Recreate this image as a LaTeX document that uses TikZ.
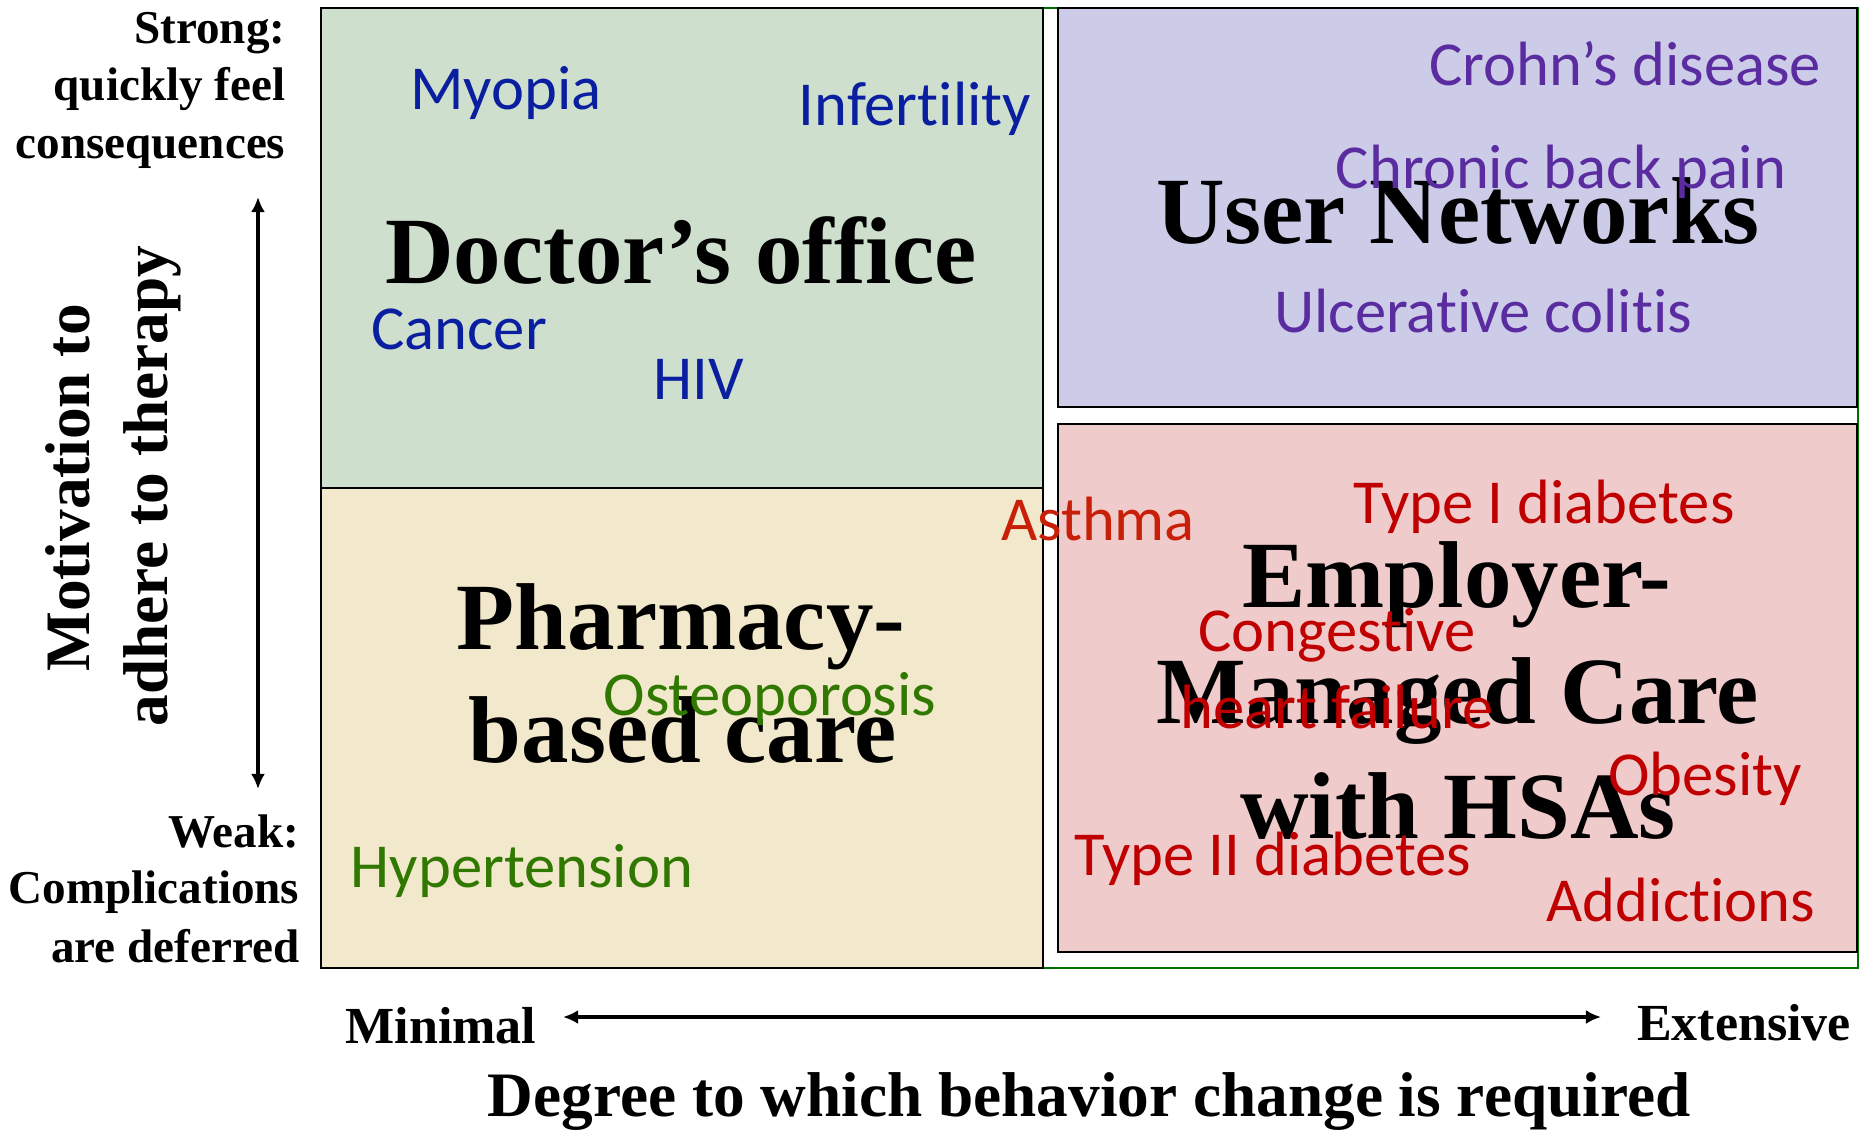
\documentclass[tikz,border=0pt]{standalone}
\usepackage{fontspec}
\setmainfont{Liberation Serif}
\newfontfamily\calibri[Ligatures=NoCommon,Contextuals=NoAlternate]{Carlito}
\usetikzlibrary{arrows.meta}

\definecolor{docfill}{RGB}{206,224,205}
\definecolor{pharmfill}{RGB}{242,233,204}
\definecolor{userfill}{RGB}{204,204,233}
\definecolor{empfill}{RGB}{240,203,204}
\definecolor{framegreen}{RGB}{0,110,0}
\definecolor{docblue}{RGB}{10,30,160}
\definecolor{userpurple}{RGB}{90,44,160}
\definecolor{empred}{RGB}{192,0,0}
\definecolor{asthmared}{RGB}{200,32,8}
\definecolor{pharmgreen}{RGB}{48,120,0}

\begin{document}
\begin{tikzpicture}[x=0.01cm,y=-0.01cm,
  dis/.style={font=\calibri\fontsize{17.8}{20}\selectfont, anchor=base, inner sep=0pt},
  title/.style={font=\bfseries\fontsize{27}{30}\selectfont, anchor=base, inner sep=0pt},
  side/.style={font=\bfseries\fontsize{13.4}{15}\selectfont, anchor=base east, inner sep=0pt},
  axis/.style={font=\bfseries\fontsize{18}{20}\selectfont, anchor=base, inner sep=0pt},
  dir/.style={line width=0.9pt, {Latex[length=4.3pt,width=4pt]}-{Latex[length=4.3pt,width=4pt]}}]
\useasboundingbox (0,0) rectangle (1866,1130);

% quadrants
\draw[framegreen, line width=0.6pt] (321,8) rectangle (1858,968);
\draw[fill=docfill, line width=0.7pt] (321,8) rectangle (1043,488);
\draw[fill=pharmfill, line width=0.7pt] (321,488) rectangle (1043,968);
\draw[fill=userfill, line width=0.7pt] (1058,8) rectangle (1857,407);
\draw[fill=empfill, line width=0.7pt] (1058,424) rectangle (1857,952);

% quadrant titles
\node[title] (doc) at (681,283) {Doctor’s office};
\node[title] (pharm1) at (681,649) {Pharmacy-};
\node[title] (pharm2) at (683,762) {based care};
\node[title] (user) at (1458,243) {User Networks};
\node[title] (emp1) at (1457,607) {Employer-};
\node[title] (emp2) at (1458,723) {Managed Care};
\node[title] (emp3) at (1458,838) {with HSAs};

% conditions
\node[dis, docblue] (myopia) at (506,109) {Myopia};
\node[dis, docblue] (infert) at (915,125) {Infertility};
\node[dis, docblue] (cancer) at (459,349) {Cancer};
\node[dis, docblue] (hiv) at (699,399) {HIV};
\node[dis, userpurple] (crohn) at (1625,85) {Crohn’s disease};
\node[dis, userpurple] (back) at (1561,188) {Chronic back pain};
\node[dis, userpurple] (colitis) at (1483,332) {Ulcerative colitis};
\node[dis, asthmared] (asthma) at (1098,540) {Asthma};
\node[dis, empred] (typeone) at (1544,523) {Type I diabetes};
\node[dis, empred] (cong) at (1337,651) {Congestive};
\node[dis, empred] (heart) at (1337,728) {heart failure};
\node[dis, empred] (obesity) at (1705,795) {Obesity};
\node[dis, empred] (typetwo) at (1273,875) {Type II diabetes};
\node[dis, empred] (addict) at (1681,921) {Addictions};
\node[dis, pharmgreen] (osteo) at (770,715) {Osteoporosis};
\node[dis, pharmgreen] (hyper) at (522,887) {Hypertension};

% vertical axis
\node[side] (strong1) at (286,43) {Strong:};
\node[side] (strong2) at (286,100) {quickly feel};
\node[side] (strong3) at (286,158) {consequences};
\node[side] (weak1) at (300,847) {Weak:};
\node[side] (weak2) at (300,903) {Complications};
\node[side] (weak3) at (300,962) {are deferred};
\node[axis, rotate=90] (mot1) at (90,488) {Motivation to};
\node[axis, rotate=90] (mot2) at (167,486) {adhere to therapy};
\coordinate (vtop) at (258,197);
\coordinate (vbot) at (258,789);
\draw[dir] (vtop) -- (vbot);

% horizontal axis
\node[axis, font=\bfseries\fontsize{14.8}{17}\selectfont] (minimal) at (441,1043) {Minimal};
\node[axis, font=\bfseries\fontsize{14.8}{17}\selectfont] (extensive) at (1744,1040) {Extensive};
\node[axis] (degree) at (1089,1116) {Degree to which behavior change is required};
\coordinate (hleft) at (563,1017);
\coordinate (hright) at (1601,1017);
\draw[dir] (hleft) -- (hright);
\end{tikzpicture}
\end{document}
